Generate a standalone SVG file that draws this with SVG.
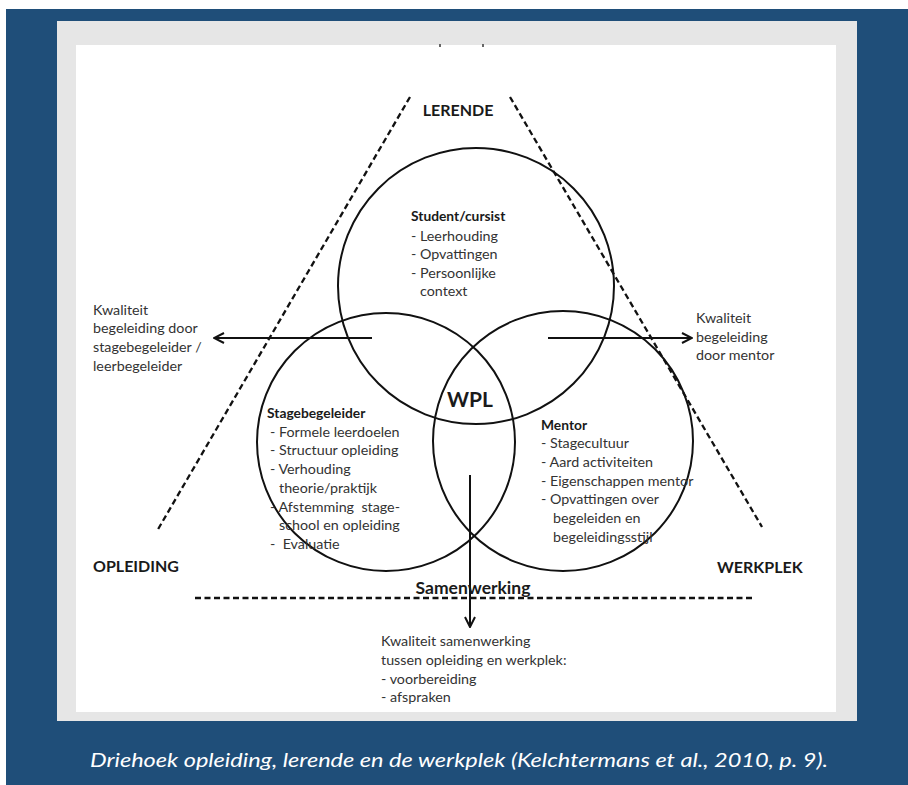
<svg xmlns="http://www.w3.org/2000/svg" width="908" height="785" viewBox="0 0 908 785">
<defs>
<style>
.t{font-family:Lato,"Open Sans","Liberation Sans",sans-serif;font-size:14.3px;fill:#333;}
.b{font-family:Lato,"Open Sans","Liberation Sans",sans-serif;font-weight:bold;fill:#1a1a1a;}
.c{fill:none;stroke:#111;stroke-width:2;}
.d{fill:none;stroke:#111;stroke-width:2.3;stroke-dasharray:6 3.5;}
.a{fill:none;stroke:#111;stroke-width:2;}
</style>
<marker id="ah" viewBox="0 0 12 12" refX="11" refY="6" markerWidth="12" markerHeight="12" markerUnits="userSpaceOnUse" orient="auto">
<path d="M1,1 L11,6 L1,11" fill="none" stroke="#111" stroke-width="2"/>
</marker>
</defs>
<rect x="0" y="0" width="908" height="785" fill="#fff"/>
<rect x="6" y="9" width="902" height="776" fill="#1f4e79"/>
<rect x="57" y="21" width="800" height="700" fill="#e6e6e6"/>
<rect x="76" y="45" width="760" height="667" fill="#fff"/>
<rect x="439" y="44" width="2" height="3" fill="#666"/>
<rect x="482" y="44" width="2" height="3" fill="#666"/>

<g id="connectors">
<line class="d" x1="410" y1="97" x2="157" y2="531"/>
<line class="d" x1="510" y1="97" x2="762" y2="527"/>
<line class="d" x1="195" y1="598" x2="755" y2="598" stroke-dasharray="5 3"/>
<line class="a" x1="372" y1="338" x2="214" y2="338" marker-end="url(#ah)"/>
<line class="a" x1="548" y1="338" x2="692" y2="338" marker-end="url(#ah)"/>
<line class="a" x1="470" y1="475" x2="470" y2="627" marker-end="url(#ah)"/>
</g>

<g id="circle-student">
<circle class="c" cx="476" cy="286" r="138"/>
<text class="b" x="411" y="221" font-size="13.8">Student/cursist</text>
<text class="t" x="411" y="241">- Leerhouding</text>
<text class="t" x="411" y="259">- Opvattingen</text>
<text class="t" x="411" y="278">- Persoonlijke</text>
<text class="t" x="420" y="296">context</text>
</g>

<g id="circle-stagebegeleider">
<circle class="c" cx="386" cy="442" r="129"/>
<text class="b" x="267" y="418" font-size="13.8">Stagebegeleider</text>
<text class="t" x="270" y="437">- Formele leerdoelen</text>
<text class="t" x="270" y="455">- Structuur opleiding</text>
<text class="t" x="270" y="474">- Verhouding</text>
<text class="t" x="279" y="493">theorie/praktijk</text>
<text class="t" x="270" y="512" xml:space="preserve">- Afstemming  stage-</text>
<text class="t" x="279" y="530">school en opleiding</text>
<text class="t" x="270" y="549" xml:space="preserve">-  Evaluatie</text>
</g>

<g id="circle-mentor">
<circle class="c" cx="563" cy="441" r="130"/>
<text class="b" x="541" y="430" font-size="13.8">Mentor</text>
<text class="t" x="541" y="448">- Stagecultuur</text>
<text class="t" x="541" y="467">- Aard activiteiten</text>
<text class="t" x="541" y="486">- Eigenschappen mentor</text>
<text class="t" x="541" y="504">- Opvattingen over</text>
<text class="t" x="553" y="523">begeleiden en</text>
<text class="t" x="553" y="542">begeleidingsstijl</text>
</g>

<g id="wpl">
<text class="b" x="470" y="407" font-size="21" text-anchor="middle">WPL</text>
</g>

<g id="label-lerende">
<text class="b" x="458" y="116" font-size="16" text-anchor="middle">LERENDE</text>
</g>
<g id="label-opleiding">
<text class="b" x="93" y="572" font-size="16">OPLEIDING</text>
</g>
<g id="label-werkplek">
<text class="b" x="717" y="573" font-size="16">WERKPLEK</text>
</g>
<g id="label-samenwerking">
<text class="b" x="473" y="594" font-size="17.5" text-anchor="middle">Samenwerking</text>
</g>

<g id="label-left">
<text class="t" x="93" y="315">Kwaliteit</text>
<text class="t" x="93" y="333">begeleiding door</text>
<text class="t" x="93" y="352">stagebegeleider /</text>
<text class="t" x="93" y="371">leerbegeleider</text>
</g>
<g id="label-right">
<text class="t" x="696" y="323">Kwaliteit</text>
<text class="t" x="696" y="342">begeleiding</text>
<text class="t" x="696" y="360">door mentor</text>
</g>
<g id="label-bottom">
<text class="t" x="381" y="646">Kwaliteit samenwerking</text>
<text class="t" x="381" y="665">tussen opleiding en werkplek:</text>
<text class="t" x="381" y="684">- voorbereiding</text>
<text class="t" x="381" y="702">- afspraken</text>
</g>

<text x="90" y="767" textLength="738" lengthAdjust="spacingAndGlyphs" font-family="Lato,'Open Sans','Liberation Sans',sans-serif" font-style="italic" font-size="20" fill="#fff">Driehoek opleiding, lerende en de werkplek (Kelchtermans et al., 2010, p. 9).</text>
</svg>
